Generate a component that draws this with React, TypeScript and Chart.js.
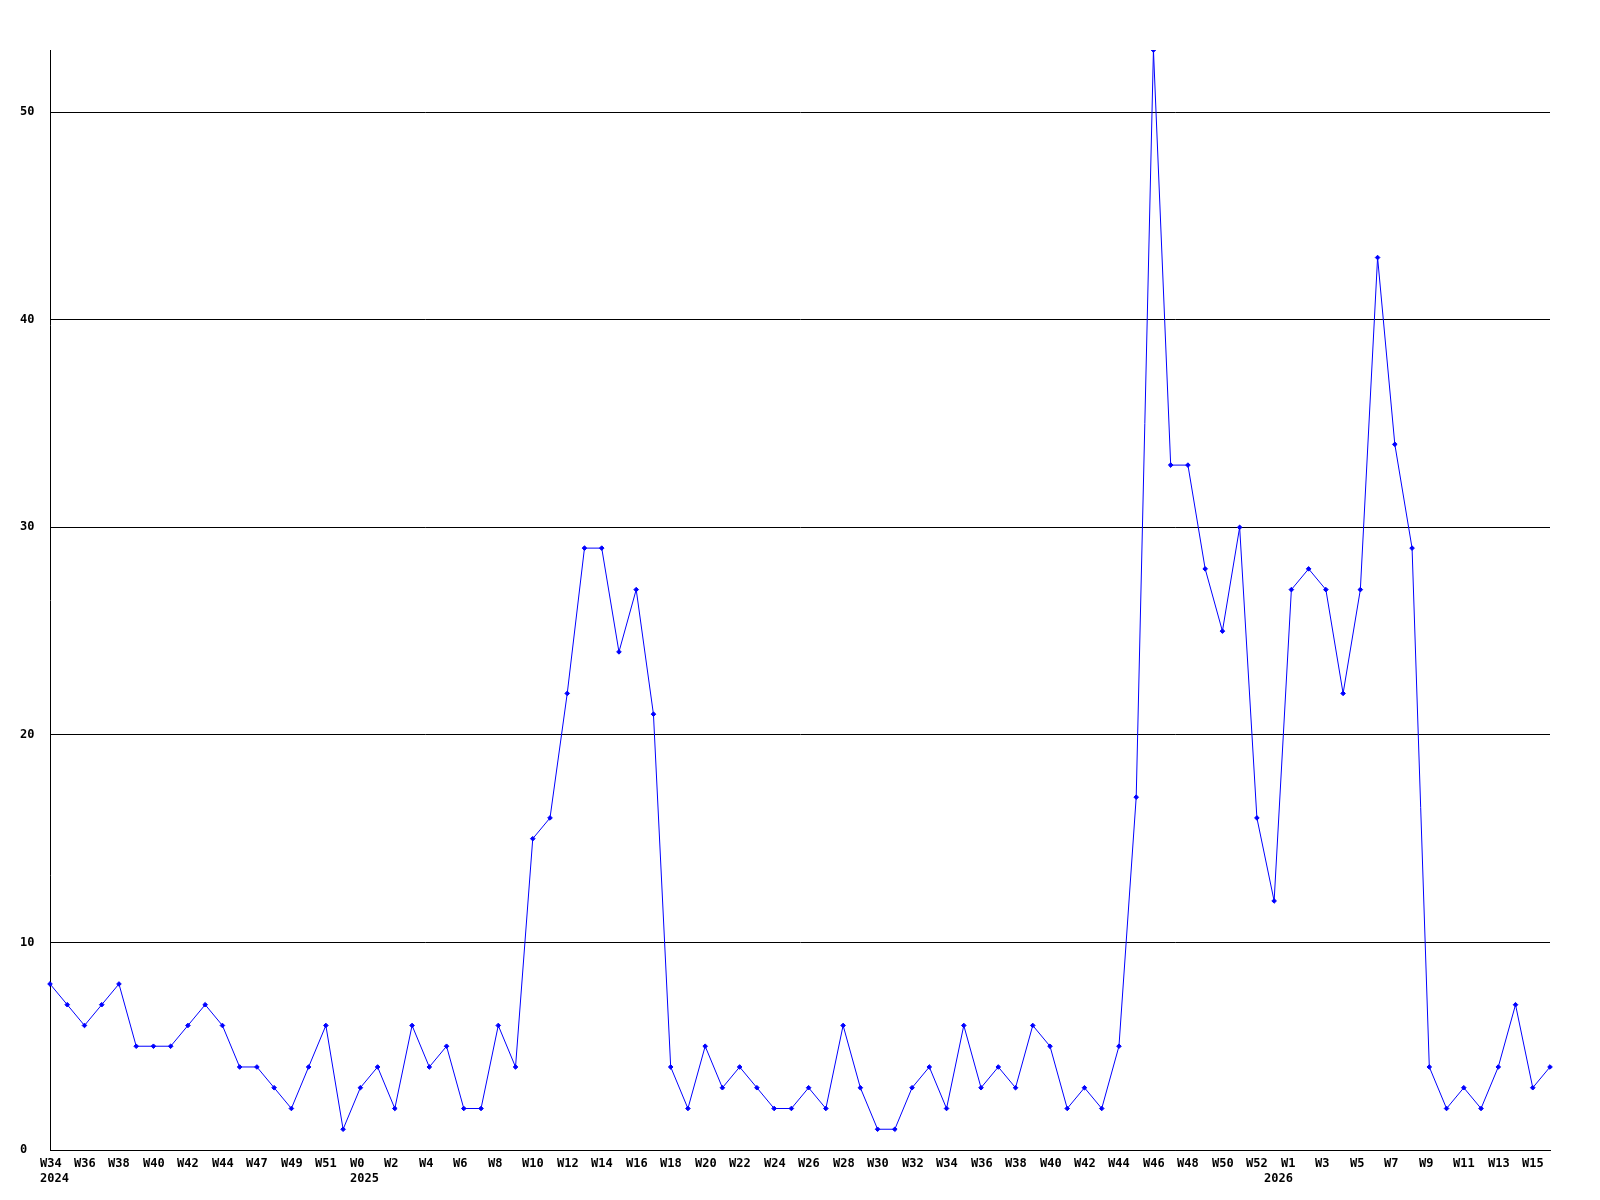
import React, { useEffect, useRef } from "react";
import { Chart, registerables } from "chart.js";

Chart.register(...registerables);

// week tick labels, one for every second data point
const weekTicks = [
  "W34", "W36", "W38", "W40", "W42", "W44", "W47", "W49", "W51",
  "W0", "W2", "W4", "W6", "W8",
  "W10", "W12", "W14", "W16", "W18", "W20", "W22", "W24", "W26", "W28", "W30",
  "W32", "W34", "W36", "W38", "W40", "W42", "W44", "W46", "W48", "W50", "W52",
  "W1", "W3", "W5", "W7", "W9", "W11", "W13", "W15",
];

// year labels and the data point (index) at which each starts
const yearLabels = ["2024", "2025", "2026"];
const yearPoints = [0, 18, 71];

const counts = [
  8, 7, 6, 7, 8, 5, 5, 5, 6, 7, 6, 4, 4, 3, 2, 4, 6, 1, 3, 4, 2, 6, 4, 5, 2, 2, 6, 4,
  15, 16, 22, 29, 29, 24, 27, 21, 4, 2, 5, 3, 4, 3, 2, 2, 3, 2, 6, 3, 1, 1, 3, 4, 2,
  6, 3, 4, 3, 6, 5, 2, 3, 2, 5, 17, 53, 33, 33, 28, 25, 30, 16, 12, 27, 28, 27, 22,
  27, 43, 34, 29, 4, 2, 3, 2, 4, 7, 3, 4,
];

const yTicks = [0, 10, 20, 30, 40, 50];
const yMax = 53;

const labels = counts.map((_, i) => (i % 2 === 0 ? weekTicks[i / 2] : ""));

const FONT = "'DejaVu Sans Mono', monospace";

const xLabelPlugin = {
  id: "xLabels",
  afterDraw(chart: any) {
    const ctx = chart.ctx;
    const xs = chart.scales.x;
    const bottom = chart.chartArea.bottom;
    ctx.save();
    ctx.font = `bold 12px ${FONT}`;
    ctx.fillStyle = "#000";
    ctx.textAlign = "left";
    ctx.textBaseline = "middle";
    weekTicks.forEach((t, k) => {
      ctx.fillText(t, Math.round(xs.getPixelForValue(k * 2) - 10.5), bottom + 14);
    });
    yearLabels.forEach((t, k) => {
      ctx.fillText(t, Math.round(xs.getPixelForValue(yearPoints[k]) - 10.5), bottom + 29);
    });
    ctx.restore();
  },
};

export default function App() {
  const ref = useRef<HTMLCanvasElement | null>(null);
  useEffect(() => {
    if (!ref.current) return;
    const chart = new Chart(ref.current, {
      type: "line",
      data: {
        labels,
        datasets: [
          {
            data: counts,
            borderColor: "#0000ff",
            backgroundColor: "#0000ff",
            borderWidth: 1,
            pointStyle: "rectRot",
            pointRadius: 2.3,
            pointBorderWidth: 1,
            pointBackgroundColor: "#0000ff",
            pointBorderColor: "#0000ff",
            tension: 0,
            fill: false,
          },
        ],
      },
      options: {
        responsive: false,
        animation: false,
        layout: { padding: { left: 20, top: 50, right: 50, bottom: 0 } },
        plugins: { legend: { display: false }, tooltip: { enabled: false } },
        scales: {
          x: {
            type: "category",
            offset: false,
            grid: { display: false, drawTicks: false },
            border: { display: true, color: "#000", width: 1 },
            afterFit: (s: any) => {
              s.height = 50;
            },
            ticks: { display: false, autoSkip: false, maxRotation: 0 },
          },
          y: {
            min: 0,
            max: yMax,
            grid: { color: "#000", lineWidth: 1, drawTicks: false },
            border: { display: true, color: "#000", width: 1 },
            afterFit: (s: any) => {
              s.width = 30;
            },
            afterBuildTicks: (s: any) => {
              s.ticks = yTicks.map((v) => ({ value: v }));
            },
            ticks: {
              crossAlign: "far",
              padding: 0,
              color: "#000",
              font: { family: FONT, size: 12, weight: "bold" },
            },
          },
        },
      },
      plugins: [xLabelPlugin],
    });
    return () => chart.destroy();
  }, []);
  return (
    <div style={{ position: "absolute", left: 0, top: 0, width: 1600, height: 1200, background: "#fff" }}>
      <canvas ref={ref} width={1600} height={1200} style={{ display: "block" }} />
    </div>
  );
}
